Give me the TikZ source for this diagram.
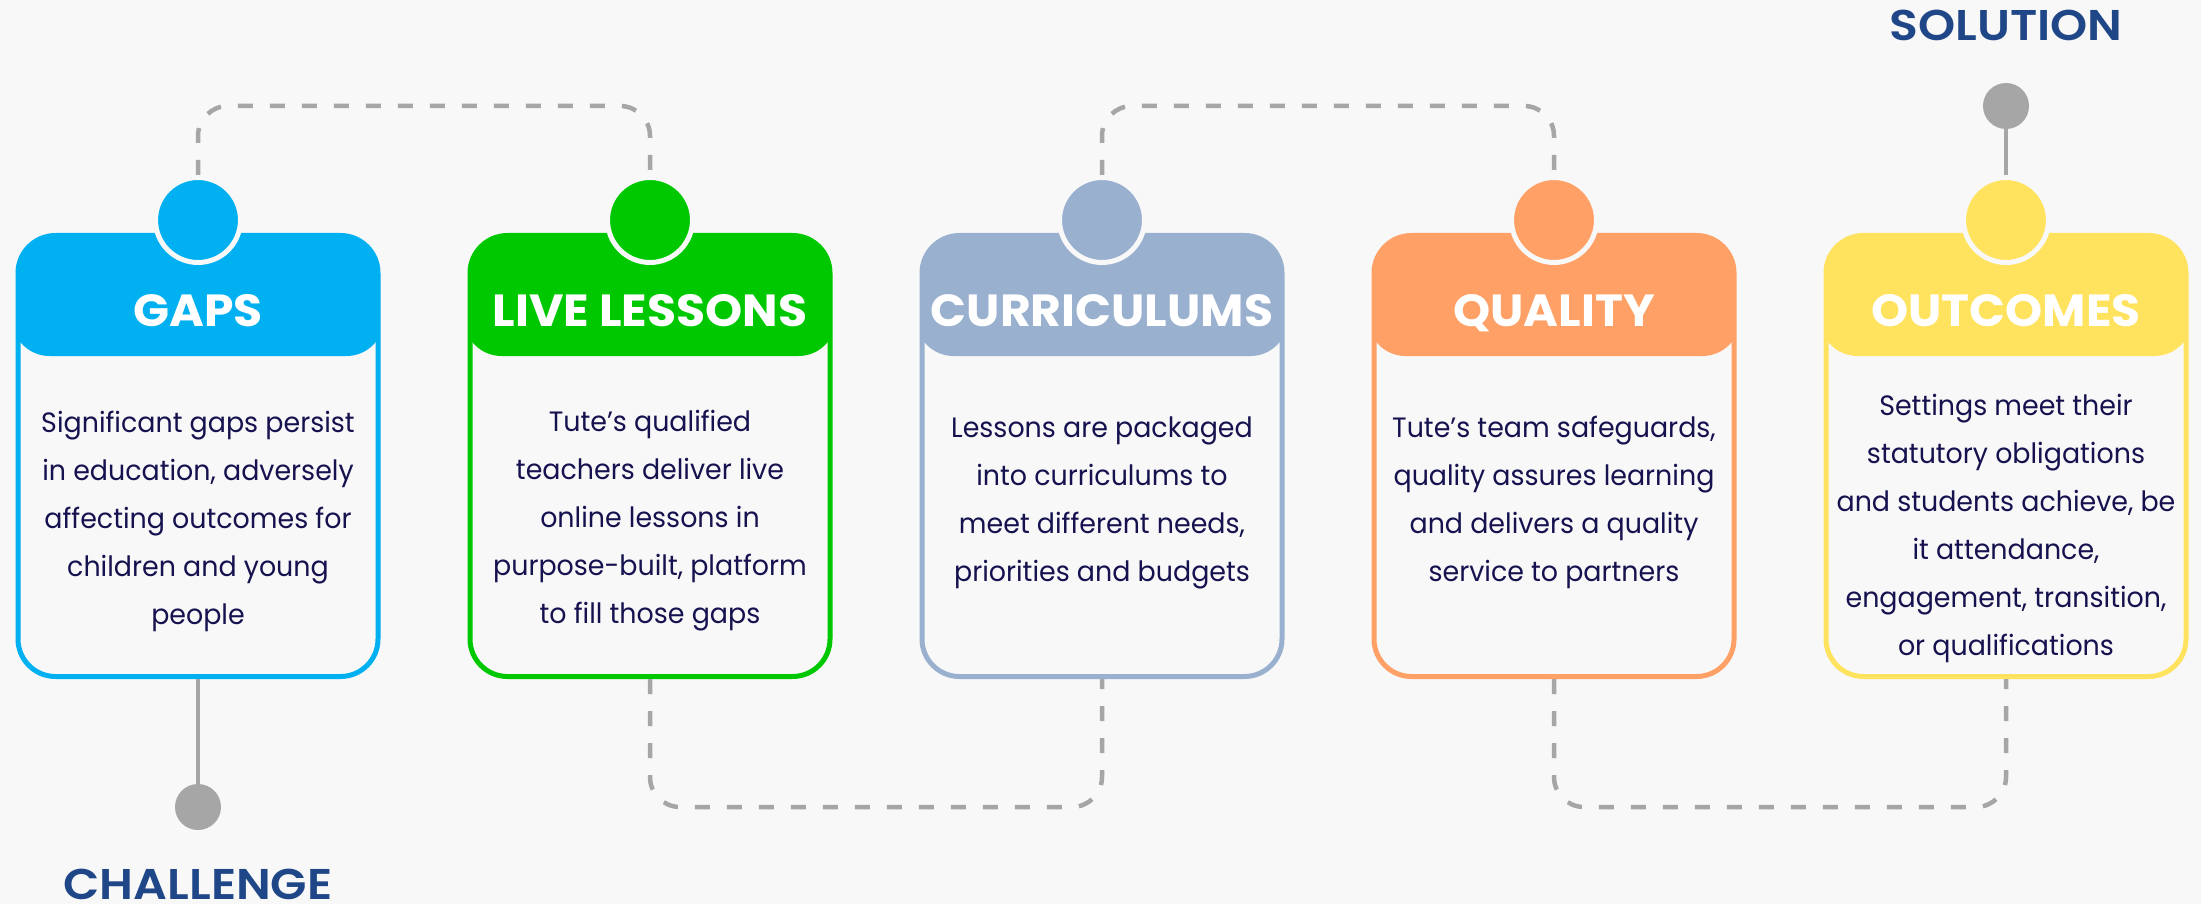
\documentclass[tikz,border=0pt]{standalone}
\usepackage{fontspec}
\newfontfamily\titlefont{Poppins}[FakeStretch=1.05]
\IfFontExistsTF{Poppins SemiBold}{\newfontfamily\semifont{Poppins SemiBold}[FakeStretch=1.1]}{\newfontfamily\semifont{Poppins}[FakeStretch=1.1]}
\newfontfamily\bodyfont{Poppins}[FakeStretch=0.96]
\definecolor{bg}{HTML}{F8F8F8}
\definecolor{cgaps}{HTML}{00B0F0}
\definecolor{clive}{HTML}{00C800}
\definecolor{ccur}{HTML}{9AB0CF}
\definecolor{cqual}{HTML}{FFA066}
\definecolor{cout}{HTML}{FFE35E}
\definecolor{lgrey}{HTML}{A6A6A6}
\definecolor{navy}{HTML}{16124F}
\definecolor{dblue}{HTML}{1F4788}
\tikzset{
 card/.style={rectangle, draw=#1, line width=5pt, fill=bg, minimum width=360pt, minimum height=441pt, rounded corners=37.5pt, inner sep=0pt,
   path picture={\fill[#1] ([xshift=-6pt,yshift=6pt]path picture bounding box.north west) rectangle ([xshift=6pt,yshift=-120.5pt]path picture bounding box.north east);}},
 badge/.style={circle, fill=#1, draw=bg, line width=5pt, minimum size=85pt, inner sep=0pt},
 cardtitle/.style={font=\titlefont\bfseries\fontsize{45}{45}\selectfont, text=white, anchor=base, inner sep=0pt},
 cardtext/.style={font=\bodyfont\fontsize{28}{48}\selectfont, text=navy, align=center, inner sep=0pt},
 dashline/.style={draw=lgrey, line width=4.5pt, dash pattern=on 15pt off 17pt, rounded corners=30pt},
 solidline/.style={draw=lgrey, line width=4pt},
 enddot/.style={circle, fill=lgrey, minimum size=46pt, inner sep=0pt},
 endlabel/.style={font=\semifont\fontsize{43}{43}\selectfont, text=dblue, anchor=base, inner sep=0pt},
}
\begin{document}
\begin{tikzpicture}[x=1pt,y=-1pt]
\fill[bg] (0,0) rectangle (2201,904);
\useasboundingbox (0,0) rectangle (2201,904);
\coordinate (top) at (0,106);
\coordinate (bot) at (0,807);
% cards
\node[card=cgaps] (b1) at (198,456) {};
\node[card=clive] (b2) at (650,456) {};
\node[card=ccur]  (b3) at (1102,456) {};
\node[card=cqual] (b4) at (1554,456) {};
\node[card=cout]  (b5) at (2006,456) {};
% badges
\node[badge=cgaps] (c1) at (198,220) {};
\node[badge=clive] (c2) at (650,220) {};
\node[badge=ccur]  (c3) at (1102,220) {};
\node[badge=cqual] (c4) at (1554,220) {};
\node[badge=cout]  (c5) at (2006,220) {};
% titles
\node[cardtitle] (t1) at (198,326) {GAPS};
\node[cardtitle] (t2) at (650,326) {LIVE LESSONS};
\node[cardtitle] (t3) at (1102,326) {CURRICULUMS};
\node[cardtitle] (t4) at (1554,326) {QUALITY};
\node[cardtitle] (t5) at (2006,326) {OUTCOMES};
% texts
\node[cardtext] (x1) at (198,521) {Significant gaps persist\\in education, adversely\\affecting outcomes for\\children and young\\people};
\node[cardtext] (x2) at (650,521) {Tute’s qualified\\teachers deliver live\\online lessons in\\purpose-built, platform\\to fill those gaps};
\node[cardtext] (x3) at (1102,503) {Lessons are packaged\\into curriculums to\\meet different needs,\\priorities and budgets};
\node[cardtext] (x4) at (1554,502) {Tute’s team safeguards,\\quality assures learning\\and delivers a quality\\service to partners};
\node[cardtext] (x5) at (2006,528) {Settings meet their\\statutory obligations\\and students achieve, be\\it attendance,\\engagement, transition,\\or qualifications};
% end points
\node[enddot] (dch) at (198,807) {};
\node[enddot] (dsol) at (2006,106) {};
\node[endlabel] (lch) at (198,899) {CHALLENGE};
\node[endlabel] (lsol) at (2006,41) {SOLUTION};
% connectors
\draw[solidline] (b1.south) -- (dch);
\draw[solidline] (dsol) -- (c5.north);
\draw[dashline] (c1.north) -- (c1.north |- top) -- (c2.north |- top) -- (c2.north);
\draw[dashline] (b2.south) -- (b2.south |- bot) -- (b3.south |- bot) -- (b3.south);
\draw[dashline] (c3.north) -- (c3.north |- top) -- (c4.north |- top) -- (c4.north);
\draw[dashline] (b4.south) -- (b4.south |- bot) -- (b5.south |- bot) -- (b5.south);
\end{tikzpicture}
\end{document}
